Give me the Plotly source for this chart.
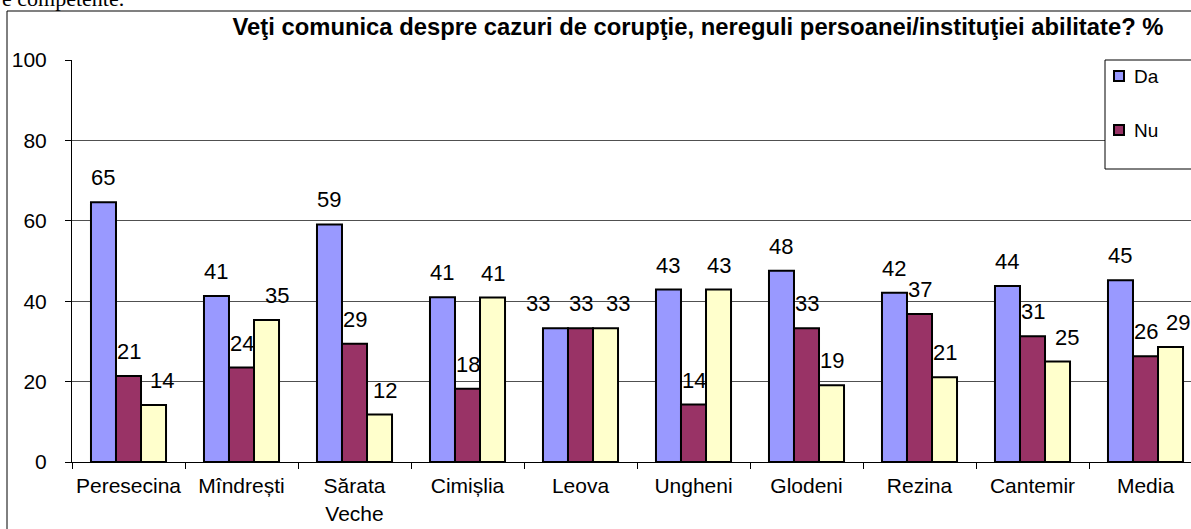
import plotly.graph_objects as go

categories = ["Peresecina", "Mîndrești", "Sărata<br>Veche", "Cimișlia", "Leova",
              "Ungheni", "Glodeni", "Rezina", "Cantemir", "Media"]
da = [64.6, 41.3, 59.1, 41.0, 33.3, 42.9, 47.6, 42.1, 43.8, 45.2]
nu = [21.4, 23.5, 29.4, 18.2, 33.3, 14.3, 33.3, 36.8, 31.3, 26.3]
nu_stiu = [14.2, 35.3, 11.8, 40.9, 33.3, 42.9, 19.1, 21.1, 25.0, 28.6]
yticks = [0, 20, 40, 60, 80, 100]
# horizontal nudges (px) of data labels, as placed in the original chart
label_nudge = {
    ("Peresecina", 2): 8, ("Mîndrești", 2): 10, ("Sărata<br>Veche", 2): 5,
    ("Leova", 0): -17, ("Leova", 2): 12, ("Cantemir", 2): 9, ("Media", 2): 7,
}

title_text = "Veţi comunica despre cazuri de corupţie, nereguli persoanei/instituţiei abilitate? %"
FONT = "Liberation Sans, Arial, sans-serif"

W, H = 1191, 529
L, R, T, B = 72, 0, 60, 67
pw, ph = W - L - R, H - T - B
CAT_PX = 113.0
BARGAP = 0.336
BAR_PX = CAT_PX * (1 - BARGAP) / 3

def px_x(p):
    return (p - L) / pw

def px_y(p):
    return (H - B - p) / ph

fig = go.Figure()
series = [("Da", da, "#9999FF"), ("Nu", nu, "#993366"), ("Nu știu", nu_stiu, "#FFFFCC")]
annotations = []
for k, (name, vals, col) in enumerate(series):
    fig.add_trace(go.Bar(
        x=categories, y=vals, name=name, showlegend=False,
        marker=dict(color=col, line=dict(color="black", width=2)),
    ))
    for c, v in zip(categories, vals):
        annotations.append(dict(
            x=c, y=v, xref="x", yref="y", text=f"{v:.0f}", showarrow=False,
            xanchor="center", yanchor="bottom",
            xshift=(k - 1) * BAR_PX + label_nudge.get((c, k), 0), yshift=10,
            font=dict(family=FONT, size=22, color="black")))

# legend box (drawn by hand so that it runs past the right edge as in the original)
shapes = [
    dict(type="line", xref="paper", yref="paper", x0=px_x(7), x1=px_x(1200),
         y0=px_y(11), y1=px_y(11), line=dict(color="#808080", width=2)),
    dict(type="line", xref="paper", yref="paper", x0=px_x(7), x1=px_x(7),
         y0=px_y(11), y1=px_y(540), line=dict(color="black", width=1)),
    dict(type="rect", xref="paper", yref="paper", x0=px_x(1105), x1=px_x(1300),
         y0=px_y(169), y1=px_y(60), line=dict(color="black", width=1),
         fillcolor="white", layer="above"),
]
for i, (name, vals, col) in enumerate(series[:2]):
    cy = 76 + 54 * i
    shapes.append(dict(type="rect", xref="paper", yref="paper",
                       x0=px_x(1114), x1=px_x(1124), y0=px_y(cy + 5), y1=px_y(cy - 5),
                       fillcolor=col, line=dict(color="black", width=2), layer="above"))
    annotations.append(dict(text=name, xref="paper", yref="paper", x=px_x(1132),
                            y=px_y(cy), xanchor="left", yanchor="middle", showarrow=False,
                            font=dict(family=FONT, size=19, color="black")))

annotations.append(dict(
    text="e competente.", xref="paper", yref="paper", x=px_x(0), y=px_y(13),
    xanchor="left", yanchor="bottom", showarrow=False,
    font=dict(family="Liberation Serif, Times New Roman, serif", size=22, color="black")))

fig.update_layout(
    width=W, height=H,
    margin=dict(l=L, r=R, t=T, b=B, autoexpand=False),
    paper_bgcolor="white", plot_bgcolor="white",
    barmode="group", bargap=BARGAP, bargroupgap=0,
    font=dict(family=FONT, size=21, color="black"),
    showlegend=False,
    title=dict(text="<b>" + title_text + "</b>", font=dict(family=FONT, size=23.8, color="black"),
               xref="paper", x=px_x(698), xanchor="center",
               yref="container", y=1 - 27 / H, yanchor="middle"),
    xaxis=dict(range=[-0.5, -0.5 + pw / CAT_PX], showline=True, linecolor="black",
               linewidth=1, ticks="outside", ticklen=6, tickcolor="black",
               tickson="boundaries", showgrid=False, tickfont=dict(size=21),
               tickangle=0, automargin=False, ticklabelstandoff=5),
    yaxis=dict(range=[0, 100], tickvals=yticks, showline=True, linecolor="black",
               linewidth=1, ticks="outside", ticklen=6, tickcolor="black",
               showgrid=True, gridcolor="#505050", gridwidth=1, zeroline=False,
               tickfont=dict(size=21), ticklabelstandoff=14, automargin=False),
    shapes=shapes,
    annotations=annotations,
)

fig.write_html("out.html", config={"displayModeBar": False},
               post_script="document.body.style.margin='0';document.body.style.overflow='hidden';")
